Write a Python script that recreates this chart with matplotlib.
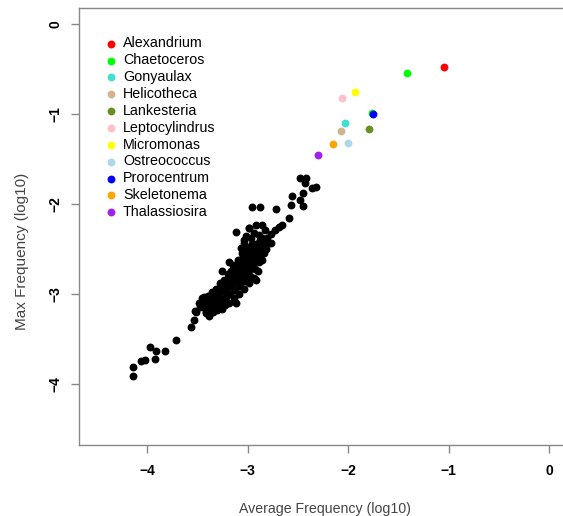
import matplotlib
matplotlib.use("Agg")
import matplotlib.pyplot as plt

plt.rcParams['font.family'] = ['Liberation Sans', 'DejaVu Sans']

# genus highlights (log10 avg freq, log10 max freq)
genera = ["Alexandrium", "Chaetoceros", "Gonyaulax", "Helicotheca", "Lankesteria",
          "Leptocylindrus", "Micromonas", "Ostreococcus", "Prorocentrum",
          "Skeletonema", "Thalassiosira"]
genus_colors = ["#FF0000", "#00FF00", "#40E0D0", "#D2B48C", "#6B8E23",
                "#FFC0CB", "#FFFF00", "#ADD8E6", "#0000FF", "#FFA500", "#A020F0"]
genus_x = [[-1.04], [-1.41, -1.76], [-2.03], [-2.07], [-1.79],
           [-2.06], [-1.93], [-2.00], [-1.75], [-2.15], [-2.30]]
genus_y = [[-0.48], [-0.54, -0.99], [-1.10], [-1.19], [-1.17],
           [-0.82], [-0.75], [-1.32], [-1.00], [-1.33], [-1.45]]

# all other genera
other_x = [-4.14, -4.14, -4.06, -4.02, -3.97, -3.92, -3.91, -3.82, -3.71, -3.56,
           -3.53, -3.51, -3.44, -3.12, -2.96, -2.88, -2.72, -2.59, -2.66, -2.73,
           -2.77, -2.77, -2.57, -2.56, -2.48, -2.45, -2.45, -2.48, -2.42, -2.43,
           -2.32, -2.36, -2.86, -2.92, -2.99, -2.83, -2.89, -3.02, -2.86, -2.94,
           -3.04, -2.96, -2.69,
           -3.48, -3.46, -3.45, -3.43, -3.42, -3.41, -3.40, -3.39, -3.38, -3.37,
           -3.36, -3.35, -3.34, -3.33, -3.32, -3.31, -3.30, -3.29, -3.28, -3.27,
           -3.26, -3.25, -3.24, -3.23, -3.22, -3.21, -3.20, -3.19, -3.18, -3.17,
           -3.16, -3.15, -3.14, -3.13, -3.12, -3.11, -3.10, -3.09, -3.08, -3.07,
           -3.06, -3.05, -3.04, -3.03, -3.02, -3.01, -3.00, -2.99, -2.98, -2.97,
           -2.96, -2.95, -2.94, -2.93, -2.92, -2.91, -2.90, -2.89, -2.88, -2.87,
           -2.86, -2.85, -2.84, -2.82, -2.81,
           -3.47, -3.44, -3.40, -3.36, -3.33, -3.30, -3.27, -3.24, -3.21, -3.18,
           -3.15, -3.12, -3.09, -3.06, -3.03, -3.00, -2.97, -2.94, -2.91, -2.88,
           -3.38, -3.31, -3.25, -3.19, -3.13, -3.07, -3.01, -2.95, -2.89, -2.84,
           -3.42, -3.52, -3.26, -3.19, -3.07, -3.04, -2.99, -2.79, -2.92, -3.12,
           -3.26, -3.35, -3.30, -3.28, -3.22, -3.20, -3.17, -3.15, -3.12, -3.10,
           -3.08, -3.05, -3.03, -3.00, -2.98, -2.96, -2.94, -2.92, -2.90, -2.88,
           -2.87, -3.40, -3.37, -3.32, -3.25, -3.18, -3.14, -3.06, -3.02, -2.97]
other_y = [-3.91, -3.81, -3.75, -3.73, -3.59, -3.72, -3.63, -3.63, -3.51, -3.37,
           -3.29, -3.20, -3.03, -2.31, -2.03, -2.03, -2.05, -2.16, -2.23, -2.29,
           -2.33, -2.43, -2.01, -1.91, -1.95, -2.02, -1.88, -1.71, -1.71, -1.77,
           -1.81, -1.82, -2.23, -2.23, -2.27, -2.29, -2.34, -2.36, -2.38, -2.32,
           -2.43, -2.45, -2.25,
           -3.10, -3.05, -3.15, -3.08, -3.20, -3.12, -3.02, -3.24, -3.16, -3.09,
           -2.98, -3.20, -3.13, -3.05, -2.95, -3.18, -3.10, -3.02, -2.88, -3.15,
           -3.07, -2.97, -2.85, -3.12, -3.03, -2.93, -2.78, -3.10, -3.00, -2.90,
           -2.80, -2.68, -3.05, -2.96, -2.86, -2.75, -2.62, -3.00, -2.91, -2.82,
           -2.72, -2.58, -2.95, -2.86, -2.77, -2.66, -2.52, -2.88, -2.80, -2.70,
           -2.60, -2.45, -2.82, -2.72, -2.62, -2.52, -2.74, -2.64, -2.55, -2.45,
           -2.62, -2.52, -2.42, -2.50, -2.38,
           -3.14, -3.11, -3.06, -3.04, -2.99, -2.96, -2.92, -2.90, -2.86, -2.83,
           -2.78, -2.74, -2.70, -2.66, -2.62, -2.58, -2.54, -2.50, -2.46, -2.41,
           -3.05, -2.99, -2.94, -2.87, -2.80, -2.77, -2.71, -2.66, -2.58, -2.55,
           -3.21, -3.19, -2.75, -2.64, -2.49, -2.40, -2.27, -2.43, -2.84, -3.10,
           -3.17, -3.05, -2.98, -3.12, -2.88, -3.00, -2.75, -2.92, -2.80, -2.70,
           -2.85, -2.65, -2.78, -2.60, -2.72, -2.52, -2.65, -2.45, -2.58, -2.40,
           -2.50, -3.10, -3.18, -3.08, -2.92, -2.84, -2.70, -2.55, -2.48, -2.38]

ticks = [-4, -3, -2, -1, 0]
tick_labels = ["\u22124", "\u22123", "\u22122", "\u22121", "0"]

fig = plt.figure(figsize=(5.63, 5.16), dpi=100)
ax = fig.add_axes([79 / 563, 1 - 445 / 516, 488 / 563, 437 / 516])

ax.scatter(other_x, other_y, s=32, c="black", linewidths=0, zorder=2)
for name, col, gx, gy in zip(genera, genus_colors, genus_x, genus_y):
    ax.scatter(gx, gy, s=32, c=col, linewidths=0, label=name, zorder=3)

ax.set_xlim(-4.68, 0.18)
ax.set_ylim(-4.68, 0.18)
ax.set_xticks(ticks)
ax.set_yticks(ticks)
ax.set_xticklabels(tick_labels, fontweight="bold")
ax.set_yticklabels(tick_labels, fontweight="bold", rotation=90, va="center")
ax.tick_params(axis="both", length=6, width=1, color="#888888", labelsize=10)
ax.tick_params(axis="x", pad=8)
ax.tick_params(axis="y", pad=6)

for s in ax.spines.values():
    s.set_color("#888888")
    s.set_linewidth(1)

ax.set_xlabel("Average Frequency (log10)", fontsize=10.2, color="#444444")
ax.set_ylabel("Max Frequency (log10)", fontsize=11, color="#444444")
ax.xaxis.set_label_coords(0.504, -0.13)
ax.yaxis.set_label_coords(-0.103, 0.444)

ax.legend(loc="upper left", bbox_to_anchor=(0.039, 0.948), frameon=False,
          fontsize=10.3, handletextpad=0.35, labelspacing=0.2, borderaxespad=0,
          handlelength=1.0)

fig.savefig("out.png", dpi=100)
